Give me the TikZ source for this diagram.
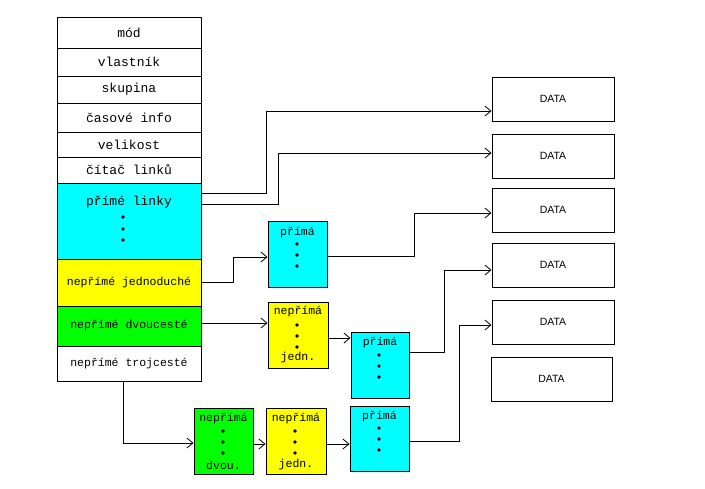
\documentclass[tikz,border=0pt]{standalone}
\usepackage{fontspec}
\setmainfont{Liberation Sans}
\newfontfamily\monof{Liberation Mono}
\usetikzlibrary{arrows.meta}
\definecolor{cy}{RGB}{0,255,255}
\definecolor{ye}{RGB}{255,255,0}
\definecolor{gr}{RGB}{0,255,0}
\begin{document}
\begin{tikzpicture}[x=1pt,y=-1pt,
  box/.style={draw, line width=1pt, inner sep=0pt, font=\monof\fontsize{13}{15}\selectfont},
  row/.style={box, minimum width=144pt},
  lrow/.style={row, font=\monof\fontsize{11.5}{14}\selectfont},
  sbox/.style={box},
  stxt/.style={inner sep=0pt, font=\monof\fontsize{11.5}{14}\selectfont},
  dbox/.style={draw, line width=1pt, inner sep=0pt, minimum height=44pt, font=\fontsize{10.5}{12}\selectfont},
  arr/.style={line width=1pt, -{Straight Barb[length=6pt,width=10pt,line width=0.8pt]}},
  ln/.style={line width=1pt},
  dot/.style={fill=black}]
\useasboundingbox (0,0) rectangle (705,488);
% main column
\node[row, minimum height=31pt] (mod) at (129,32.5) {mód};
\node[row, minimum height=28pt] (vlast) at (129,62) {vlastník};
\node[row, minimum height=27pt] (skup) at (129,89.5) {skupina};
\node[row, minimum height=29pt] (cas) at (129,117.5) {časové info};
\node[row, minimum height=25pt] (vel) at (129,144.5) {velikost};
\node[row, minimum height=26pt] (cit) at (129,170) {čítač linků};
\node[row, minimum height=76pt, fill=cy] (prime) at (129,221) {};
\node[inner sep=0pt, font=\monof\fontsize{13}{15}\selectfont] (primet) at (129,202) {přímé linky};
\foreach \yy in {217,229,240} \fill (123,\yy) circle (1.8pt);
\node[lrow, minimum height=47pt, fill=ye] (jedn) at (129,282.5) {nepřímé jednoduché};
\node[lrow, minimum height=40pt, fill=gr] (dvou) at (129,326) {nepřímé dvoucesté};
\node[lrow, minimum height=35pt] (troj) at (129,363.5) {nepřímé trojcesté};
% data boxes
\node[dbox, minimum width=122pt] (d1) at (553,99) {DATA};
\node[dbox, minimum width=122pt] (d2) at (553,156) {DATA};
\node[dbox, minimum width=122pt] (d3) at (553,210) {DATA};
\node[dbox, minimum width=122pt] (d4) at (553,265) {DATA};
\node[dbox, minimum width=122pt] (d5) at (553,322) {DATA};
\node[dbox, minimum width=121pt] (d6) at (551.5,379) {DATA};
% small boxes
\node[sbox, fill=cy, minimum width=59pt, minimum height=66pt] (p1) at (297.5,254) {};
\node[stxt] (p1t) at (297.5,233) {přímá};
\foreach \yy in {244,255,266} \fill (297,\yy) circle (1.8pt);
\node[sbox, fill=ye, minimum width=60pt, minimum height=66pt] (n1) at (298,335) {};
\node[stxt] (n1t) at (298,312) {nepřímá};
\node[stxt] (n1b) at (298,358) {jedn.};
\foreach \yy in {325,336,347} \fill (297,\yy) circle (1.8pt);
\node[sbox, fill=cy, minimum width=58pt, minimum height=66pt] (p2) at (380,365) {};
\node[stxt] (p2t) at (380,343) {přímá};
\foreach \yy in {355,366,377} \fill (379,\yy) circle (1.8pt);
\node[sbox, fill=gr, minimum width=59pt, minimum height=66pt] (g1) at (223.5,441) {};
\node[stxt] (g1t) at (223.5,419) {nepřímá};
\node[stxt] (g1b) at (223.5,465) {dvou.};
\foreach \yy in {431,442,453} \fill (223,\yy) circle (1.8pt);
\node[sbox, fill=ye, minimum width=60pt, minimum height=66pt] (y2) at (296,441) {};
\node[stxt] (y2t) at (296,419) {nepřímá};
\node[stxt] (y2b) at (296,465) {jedn.};
\foreach \yy in {431,442,453} \fill (295,\yy) circle (1.8pt);
\node[sbox, fill=cy, minimum width=59pt, minimum height=65pt] (p3) at (379.5,438.5) {};
\node[stxt] (p3t) at (379.5,417) {přímá};
\foreach \yy in {428,439,450} \fill (379,\yy) circle (1.8pt);
% connectors
\draw[arr] ([yshift=28pt]prime.east) -- ++(65,0) |- ([yshift=-12pt]d1.west);
\draw[arr] ([yshift=17pt]prime.east) -- ++(77,0) |- ([yshift=3pt]d2.west);
\draw[arr] (jedn.east) -- ++(32,0) |- ([yshift=-3pt]p1.west);
\draw[arr] ([yshift=-2pt]p1.east) -- ++(87,0) |- ([yshift=-3pt]d3.west);
\draw[arr] ([yshift=12pt]n1.west -| dvou.east) -- ([yshift=12pt]n1.west);
\draw[arr] ([yshift=-3pt]n1.east) -- ([yshift=-3pt]n1.east -| p2.west);
\draw[arr] ([yshift=13pt]p2.east) -- ++(35,0) |- ([yshift=-5pt]d4.west);
\draw[arr] ([xshift=-6pt]troj.south) |- ([yshift=-2pt]g1.west);
\draw[arr] ([yshift=-3pt]g1.east) -- ([yshift=-3pt]g1.east -| y2.west);
\draw[arr] ([yshift=-3pt]y2.east) -- ([yshift=-3pt]y2.east -| p3.west);
\draw[arr] ([yshift=-2.5pt]p3.east) -- ++(50,0) |- ([yshift=-3pt]d5.west);
\end{tikzpicture}
\end{document}
